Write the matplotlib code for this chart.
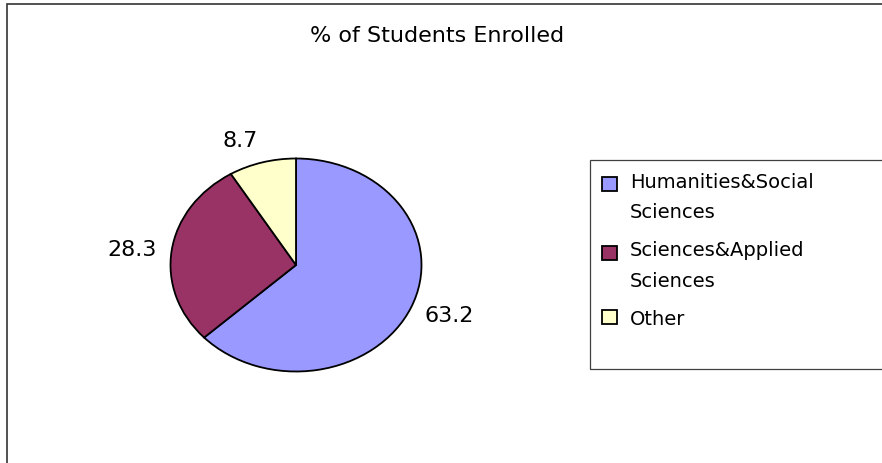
import matplotlib
matplotlib.use("Agg")
import matplotlib.pyplot as plt
from matplotlib.patches import Rectangle
from matplotlib.legend_handler import HandlerPatch

# data
title = "% of Students Enrolled"
categories = ["Humanities&Social\nSciences", "Sciences&Applied\nSciences", "Other"]
values = [63.2, 28.3, 8.7]
colors = ["#9999FF", "#993366", "#FFFFCC"]

plt.rcParams['font.family'] = ['DejaVu Sans']

fig = plt.figure(figsize=(8.82, 4.64), dpi=100)

# outer chart border (cut off at right and bottom like the original)
fig.patches.append(Rectangle((7 / 882, -0.1), 1.2, 1.1 - 5 / 464, transform=fig.transFigure,
                             fill=False, edgecolor="#333333", lw=1.2, clip_on=False))

fig.text(437 / 882, 1 - 42 / 464, title, ha="center", va="baseline", fontsize=16)

# pie is stretched into an ellipse, so use an axes with auto aspect
ax = fig.add_axes([170.5 / 882, 91.5 / 464, 251 / 882, 213 / 464])
wedges, texts = ax.pie(values, labels=[f"{v}" for v in values], colors=colors,
                       startangle=90, counterclock=False, labeldistance=1.12,
                       wedgeprops=dict(edgecolor="black", linewidth=1.3),
                       textprops=dict(fontsize=16))
ax.set_aspect("auto")
ax.set_xlim(-1, 1)
ax.set_ylim(-1, 1)
ax.axis("off")

for t in texts:
    x, y = t.get_position()
    if y > 0.8:
        t.set_va("bottom")
    elif y < -0.8:
        t.set_va("top")
    elif y < -0.3:
        t.set_va("center_baseline")

# legend frame is taller than its content in the original, draw it separately
fig.patches.append(Rectangle((590 / 882, 1 - 370 / 464), 0.5, 209 / 464, transform=fig.transFigure,
                             fill=False, edgecolor="#404040", lw=0.9, clip_on=False))

fs = 14
linesp = 1.75


def box_for(nlines):
    shift = 0.5 * (nlines - 1) * linesp * 0.76 * fs

    def make(legend, orig_handle, xdescent, ydescent, width, height, fontsize):
        return Rectangle((-xdescent, -ydescent + shift), width, height)
    return make


hmap = {w: HandlerPatch(patch_func=box_for(lab.count("\n") + 1)) for w, lab in zip(wedges, categories)}
leg = ax.legend(wedges, categories, loc="upper left", bbox_to_anchor=(590 / 882, 1 - 161 / 464),
                bbox_transform=fig.transFigure, frameon=False, fontsize=fs, borderpad=0.6,
                borderaxespad=0, handlelength=0.77, handleheight=0.7, handletextpad=0.67,
                labelspacing=1.0, handler_map=hmap)
for t in leg.get_texts():
    t.set_linespacing(linesp)
for h in leg.legend_handles:
    h.set_edgecolor("black")
    h.set_linewidth(1.3)

fig.savefig("out.png", dpi=100)
